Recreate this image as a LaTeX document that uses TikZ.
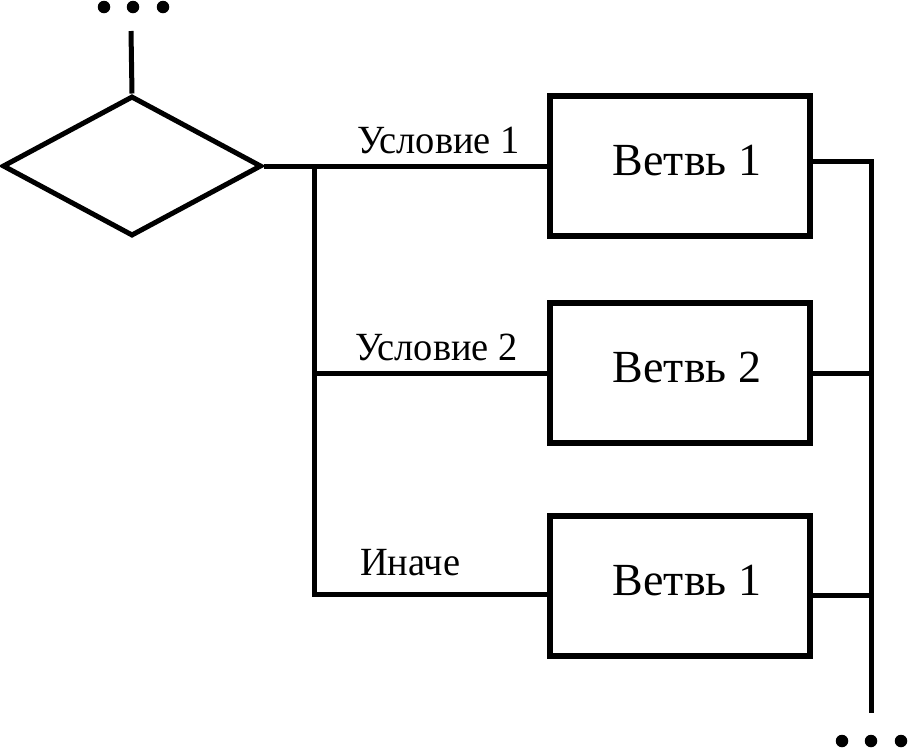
\documentclass[tikz,border=0pt]{standalone}
\usepackage{fontspec}
\setmainfont{Liberation Serif}
\newfontfamily\lblfont{Liberation Serif}[FakeStretch=0.96]
\usetikzlibrary{shapes.geometric}
\tikzset{
  ln/.style={line width=5pt, line cap=butt},
  decision/.style={draw, line width=5pt, shape=diamond, minimum width=259pt, minimum height=140pt, inner sep=0pt},
  branch/.style={draw, line width=5.5pt, rectangle, minimum width=260pt, minimum height=140pt, inner sep=0pt, text depth=12pt, font=\fontsize{46}{50}\selectfont},
  cond/.style={anchor=base west, inner sep=0pt, font=\lblfont\fontsize{40}{44}\selectfont},
  dot/.style={circle, fill=black, inner sep=0pt, minimum size=12.5pt},
}
\begin{document}
\begin{tikzpicture}[x=1pt, y=-1pt]
\useasboundingbox (0,0) rectangle (908,748);
% top dots
\node[dot] (t1) at (104,7) {};
\node[dot] (t2) at (133,7) {};
\node[dot] (t3) at (163,7) {};
% bottom dots
\node[dot] (u1) at (842,741) {};
\node[dot] (u2) at (871,741) {};
\node[dot] (u3) at (901,741) {};
% decision
\node[decision] (d) at (132,166) {};
\coordinate (in) at (131,31);
\draw[ln] (in) -- (d.north);
% branches
\node[branch] (b1) at (680,166) {\hspace*{14pt}Ветвь 1};
\node[branch] (b2) at (680,373) {\hspace*{14pt}Ветвь 2};
\node[branch] (b3) at (680,586) {\hspace*{14pt}Ветвь 1};
% connectors left
\coordinate (j1) at (314,165);
\coordinate (c3) at ([yshift=-8pt]b3.west);
\draw[ln] (d.east) -- (b1.west);
\draw[ln] (j1) |- (b2.west);
\draw[ln] (j1) |- (c3);
% right side
\coordinate (r1) at ([yshift=5pt]b1.east);
\coordinate (r3) at ([yshift=-9pt]b3.east);
\coordinate (rt) at (871,161);
\coordinate (rb) at (871,713);
\draw[ln] (r1) -- (rt) -- (rb);
\draw[ln] (b2.east) -- (b2.east -| rt);
\draw[ln] (r3) -- (r3 -| rt);
% labels
\node[cond] (l1) at (357,153) {Условие 1};
\node[cond] (l2) at (355,360) {Условие 2};
\node[cond] (l3) at (360,575) {Иначе};
\end{tikzpicture}
\end{document}
